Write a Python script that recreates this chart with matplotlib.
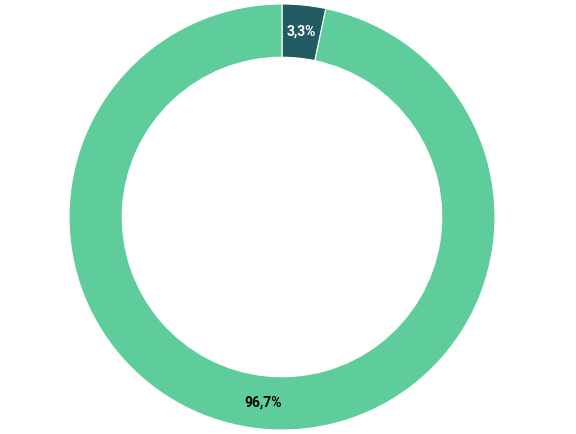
import matplotlib.pyplot as plt

# share of answers, in percent
labels = ['3,3%', '96,7%']
values = [3.3, 96.7]
colors = ['#225c62', '#5ecd9b']
text_colors = ['white', 'black']

fig = plt.figure(figsize=(5.76, 4.34), dpi=100)
ax = fig.add_axes([0, 0, 1, 1])

wedges, texts = ax.pie(values, labels=labels, colors=colors, startangle=90,
                       counterclock=False, labeldistance=0.875,
                       wedgeprops=dict(width=0.25, edgecolor='white', linewidth=0.8))
for t, c in zip(texts, text_colors):
    t.set_color(c)
    t.set_fontweight('bold')
    t.set_fontsize(10)
    t.set_family(['Liberation Sans Narrow', 'Roboto', 'DejaVu Sans'])
    t.set_horizontalalignment('center')
    t.set_verticalalignment('center')

# place the ring like in the reference (centre at 282, 217 px, radius 213 px)
scale = 213
ax.set_xlim(-282 / scale, (576 - 282) / scale)
ax.set_ylim(-217 / scale, (434 - 217) / scale)
ax.set_aspect('equal')
ax.axis('off')

fig.savefig('out.png', dpi=100)
